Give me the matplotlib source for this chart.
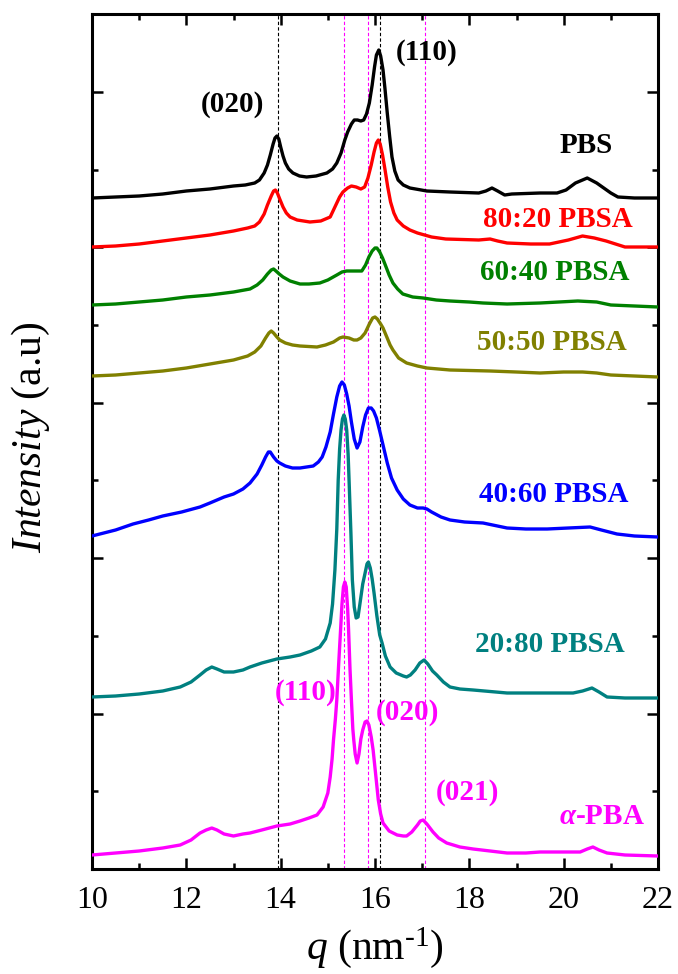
import numpy as np
import matplotlib.pyplot as plt
from matplotlib.ticker import MultipleLocator

plt.rcParams['font.family'] = ['Liberation Serif', 'DejaVu Serif']
plt.rcParams['mathtext.fontset'] = 'custom'
plt.rcParams['mathtext.rm'] = 'Liberation Serif'
plt.rcParams['mathtext.it'] = 'Liberation Serif:italic'
plt.rcParams['mathtext.bf'] = 'Liberation Serif:bold'
plt.rcParams['mathtext.bfit'] = 'Liberation Serif:italic:bold'

# q (nm^-1) and stacked intensity (a.u.) for each sample
pbs_q = [10.0, 10.5, 11.0, 11.5, 12.0, 12.5, 13.0, 13.25, 13.45, 13.55, 13.65, 13.72, 13.78,
         13.84, 13.88, 13.92, 13.96, 14.0, 14.05, 14.1, 14.17, 14.26, 14.4, 14.55, 14.75,
         14.98, 15.1, 15.19, 15.28, 15.36, 15.42, 15.5, 15.56, 15.63, 15.7, 15.76, 15.82,
         15.88, 15.94, 15.99, 16.03, 16.08, 16.12, 16.17, 16.21, 16.26, 16.31, 16.36, 16.42,
         16.49, 16.6, 16.74, 17.1, 17.59, 18.2, 18.35, 18.48, 18.6, 18.75, 18.9, 19.5,
         19.86, 20.05, 20.25, 20.5, 20.7, 20.85, 21.0, 21.15, 21.5, 22.0]
pbs_i = [671, 672, 673, 675, 678, 680, 683, 684, 686, 689, 696, 704, 714,
         725, 731, 733, 730, 722, 713, 706, 700, 696, 693, 692, 693,
         696, 700, 706, 716, 729, 737, 745, 749, 749, 748, 749, 755,
         766, 784, 802, 814, 819, 813, 799, 781, 756, 733, 712, 698,
         689, 684, 681, 678, 677, 676, 678, 681, 678, 674, 675, 676,
         676, 679, 686, 691, 686, 681, 676, 672, 671, 671]

p8020_q = [10.0, 10.5, 11.0, 11.5, 12.0, 12.5, 13.0, 13.3, 13.45, 13.55, 13.65, 13.72, 13.8,
           13.85, 13.89, 13.93, 13.98, 14.05, 14.12, 14.2, 14.35, 14.62, 14.85, 15.05, 15.15,
           15.25, 15.32, 15.42, 15.5, 15.6, 15.7, 15.78, 15.85, 15.92, 15.98, 16.03, 16.07,
           16.11, 16.16, 16.21, 16.27, 16.33, 16.4, 16.47, 16.6, 16.74, 16.9, 17.2, 17.5,
           18.2, 18.44, 18.6, 18.8, 19.3, 19.7, 20.1, 20.4, 20.65, 20.9, 21.1, 21.3, 22.0]
p8020_i = [622, 623, 625, 628, 631, 634, 638, 641, 643, 647, 655, 664, 673,
           678, 679, 676, 670, 662, 656, 652, 649, 647, 648, 652, 662,
           672, 677, 681, 683, 682, 680, 682, 691, 704, 717, 726, 729,
           725, 714, 700, 682, 667, 656, 649, 643, 639, 636, 632, 630,
           629, 630, 628, 626, 625, 625, 629, 633, 631, 628, 625, 622, 622]

p6040_q = [10.0, 10.5, 11.0, 11.5, 12.0, 12.5, 13.0, 13.35, 13.5, 13.62, 13.72, 13.8, 13.85,
           13.9, 13.97, 14.05, 14.2, 14.41, 14.6, 14.83, 15.0, 15.19, 15.3, 15.4, 15.55,
           15.72, 15.8, 15.87, 15.94, 16.0, 16.04, 16.1, 16.16, 16.21, 16.3, 16.38, 16.48,
           16.59, 16.8, 17.02, 17.3, 17.59, 18.0, 18.29, 18.8, 19.5, 20.3, 20.7, 21.0,
           21.5, 22.0]
p6040_i = [564, 565, 567, 569, 572, 574, 577, 580, 584, 589, 595, 599, 600,
           598, 595, 592, 588, 585, 585, 586, 589, 594, 597, 598, 598,
           598, 604, 612, 618, 621, 621, 617, 611, 605, 594, 586, 580,
           575, 572, 571, 569, 568, 567, 566, 565, 566, 568, 567, 564,
           563, 562]

p5050_q = [10.0, 10.5, 11.0, 11.5, 12.0, 12.5, 13.0, 13.3, 13.45, 13.58, 13.68, 13.75, 13.8,
           13.85, 13.92, 13.98, 14.1, 14.25, 14.41, 14.77, 14.95, 15.12, 15.25, 15.32, 15.45,
           15.55, 15.62, 15.7, 15.79, 15.88, 15.95, 16.0, 16.05, 16.12, 16.17, 16.25, 16.32,
           16.38, 16.5, 16.67, 16.9, 17.1, 17.59, 18.44, 19.0, 19.5, 20.0, 20.4, 20.7,
           21.0, 21.5, 22.0]
p5050_i = [493, 494, 496, 498, 501, 505, 509, 513, 517, 523, 531, 536, 538,
           536, 532, 529, 526, 524, 523, 522, 524, 527, 531, 532, 531,
           529, 529, 531, 536, 545, 551, 552, 550, 545, 541, 532, 524,
           519, 511, 506, 503, 501, 499, 498, 497, 496, 497, 497, 496,
           494, 493, 492]

p4060_q = [10.0, 10.5, 10.87, 11.2, 11.5, 11.9, 12.29, 12.5, 12.65, 12.8, 13.0, 13.2, 13.35,
           13.5, 13.6, 13.68, 13.74, 13.78, 13.85, 13.92, 13.98, 14.1, 14.25, 14.41, 14.55,
           14.69, 14.8, 14.88, 14.96, 15.05, 15.12, 15.19, 15.25, 15.3, 15.35, 15.4, 15.45,
           15.5, 15.56, 15.62, 15.68, 15.74, 15.8, 15.86, 15.92, 15.97, 16.03, 16.1, 16.18,
           16.26, 16.35, 16.47, 16.6, 16.74, 16.9, 17.02, 17.1, 17.2, 17.4, 17.59, 17.9,
           18.29, 18.8, 19.2, 19.65, 20.1, 20.56, 20.8, 21.13, 21.5, 22.0]
p4060_i = [333, 339, 345, 349, 353, 357, 362, 366, 369, 372, 375, 380, 386,
           395, 404, 412, 417, 417, 412, 408, 406, 403, 401, 401, 402,
           403, 407, 412, 422, 437, 455, 472, 483, 487, 484, 475, 463,
           447, 430, 421, 427, 442, 454, 461, 461, 458, 451, 438, 422,
           406, 391, 379, 370, 364, 361, 361, 360, 357, 352, 349, 347,
           346, 341, 340, 340, 341, 342, 339, 335, 333, 332]

p2080_q = [10.0, 10.5, 11.0, 11.5, 11.87, 12.1, 12.29, 12.42, 12.54, 12.65, 12.8, 13.0, 13.2,
           13.35, 13.6, 13.92, 14.2, 14.41, 14.65, 14.83, 14.95, 15.05, 15.1, 15.15, 15.19,
           15.22, 15.25, 15.28, 15.31, 15.34, 15.37, 15.4, 15.43, 15.45, 15.49, 15.52, 15.56,
           15.6, 15.64, 15.68, 15.74, 15.79, 15.83, 15.86, 15.9, 15.94, 15.98, 16.04, 16.1,
           16.15, 16.22, 16.32, 16.45, 16.6, 16.67, 16.75, 16.85, 16.95, 17.04, 17.12, 17.22,
           17.31, 17.45, 17.59, 17.8, 18.08, 18.8, 19.5, 20.2, 20.4, 20.6, 20.75, 20.92,
           21.3, 22.0]
p2080_i = [172, 173, 175, 178, 182, 187, 194, 199, 202, 200, 197, 197, 199,
           202, 206, 210, 212, 214, 218, 222, 230, 246, 265, 299, 340,
           389, 420, 439, 450, 454, 450, 439, 415, 389, 335, 289, 262,
           251, 252, 265, 285, 296, 305, 307, 301, 290, 276, 253, 234,
           226, 213, 202, 196, 193, 192, 194, 199, 206, 209, 205, 198,
           194, 187, 182, 180, 179, 176, 176, 176, 178, 181, 177, 172,
           171, 171]

pba_q = [10.0, 10.5, 11.0, 11.5, 11.87, 12.1, 12.29, 12.42, 12.54, 12.65, 12.8, 13.0, 13.2,
         13.35, 13.6, 13.92, 14.2, 14.41, 14.6, 14.77, 14.9, 15.0, 15.05, 15.09, 15.12,
         15.16, 15.19, 15.23, 15.27, 15.3, 15.33, 15.36, 15.39, 15.42, 15.44, 15.47, 15.5,
         15.53, 15.55, 15.58, 15.62, 15.66, 15.7, 15.74, 15.79, 15.83, 15.87, 15.92, 15.96,
         16.02, 16.07, 16.12, 16.17, 16.3, 16.47, 16.6, 16.67, 16.78, 16.9, 16.96, 17.02,
         17.1, 17.23, 17.35, 17.52, 17.8, 18.08, 18.8, 19.2, 19.5, 20.0, 20.35, 20.5,
         20.62, 20.75, 20.92, 21.3, 22.0]
pba_i = [14, 16, 18, 21, 24, 29, 36, 39, 41, 39, 35, 33, 35,
         36, 39, 43, 45, 48, 51, 54, 62, 76, 92, 110, 129,
         150, 169, 205, 239, 265, 282, 287, 282, 260, 239, 200, 169,
         140, 129, 115, 106, 115, 130, 139, 147, 148, 144, 132, 119,
         92, 69, 55, 46, 38, 34, 33, 33, 37, 44, 48, 49,
         45, 37, 31, 26, 22, 20, 16, 16, 17, 17, 17, 20,
         22, 19, 16, 14, 13]

series = [
    (pbs_q, pbs_i, 'black'),
    (p8020_q, p8020_i, '#ff0000'),
    (p6040_q, p6040_i, '#008000'),
    (p5050_q, p5050_i, '#808000'),
    (p4060_q, p4060_i, '#0000ff'),
    (p2080_q, p2080_i, '#008080'),
    (pba_q, pba_i, '#ff00ff'),
]

# reflection positions
pbs_refl = [13.95, 16.1]
pba_refl = [15.35, 15.85, 17.07]

# (text, q, intensity, colour)
labels = [
    ('(020)', 12.97, 764, 'black'),
    ('(110)', 17.1, 816, 'black'),
    ('PBS', 20.47, 723, 'black'),
    ('80:20 PBSA', 19.88, 649, '#ff0000'),
    ('60:40 PBSA', 19.82, 596, '#008000'),
    ('50:50 PBSA', 19.75, 526, '#808000'),
    ('40:60 PBSA', 19.78, 374, '#0000ff'),
    ('20:80 PBSA', 19.71, 224, '#008080'),
    (r'$\mathbfit{\alpha}$-PBA', 20.8, 52, '#ff00ff'),
    ('(110)', 14.52, 177, '#ff00ff'),
    ('(020)', 16.68, 156, '#ff00ff'),
    ('(021)', 17.97, 76, '#ff00ff'),
]

fig = plt.figure(figsize=(6.78, 9.74), dpi=100)
ax = fig.add_axes([92 / 678, 105 / 974, 566 / 678, 855 / 974])

for q in pbs_refl:
    ax.axvline(q, color='black', lw=0.8, ls=(0, (3, 2)), zorder=1)
for q in pba_refl:
    ax.axvline(q, color='#ff00ff', lw=0.8, ls=(0, (3, 2)), zorder=1)

for q, inten, c in series:
    ax.plot(q, inten, color=c, lw=2.4, solid_joinstyle='round', zorder=3)

for txt, q, y, c in labels:
    ax.text(q, y, txt, color=c, fontsize=21, fontweight='bold', ha='center', va='center')

ax.set_xlim(10, 22)
ax.set_ylim(0, 855)
ax.xaxis.set_major_locator(MultipleLocator(2))
ax.xaxis.set_minor_locator(MultipleLocator(1))
ax.yaxis.set_major_locator(MultipleLocator(155.4))
ax.yaxis.set_minor_locator(MultipleLocator(77.7))
ax.tick_params(which='both', direction='in', top=True, right=True, width=1.8)
ax.tick_params(which='major', length=8, labelsize=23, pad=12)
ax.tick_params(which='minor', length=4)
ax.tick_params(axis='y', which='both', labelleft=False)
for s in ax.spines.values():
    s.set_linewidth(2.2)

ax.set_xlabel(r'$q$ (nm$^{\text{-}1}$)', fontsize=30)
ax.set_ylabel(r'$Intensity$ (a.u)', fontsize=30)
ax.xaxis.set_label_coords(0.5, -0.065)
ax.yaxis.set_label_coords(-0.07, 0.505)

fig.savefig('out.png', dpi=100)
